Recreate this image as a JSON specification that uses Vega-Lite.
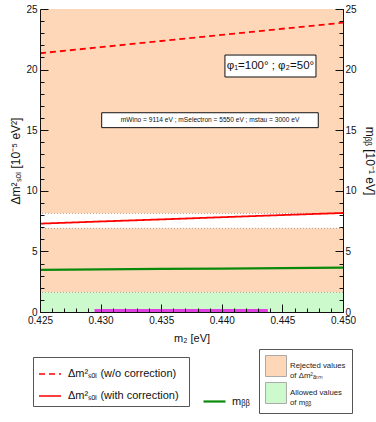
{
  "$schema": "https://vega.github.io/schema/vega-lite/v6.json",
  "width": 303,
  "height": 303,
  "autosize": {"type": "none"},
  "padding": {"left": 40, "top": 9, "right": 33, "bottom": 110},
  "background": "white",
  "config": {
    "font": "Liberation Sans",
    "view": {"stroke": "#222", "strokeWidth": 1},
    "axis": {"domainColor": "#111", "tickColor": "#111", "labelColor": "#111", "titleColor": "#111", "grid": false, "labelFont": "Liberation Sans", "titleFont": "Liberation Sans", "titleFontWeight": "normal", "labelOverlap": false, "labelFlush": false, "tickWidth": 1, "zindex": 1}
  },
  "datasets": {
    "bands": [
      {"region": "Rejected values|of Δm²ₐₜₘ", "y": 8.14, "y2": 25},
      {"region": "Rejected values|of Δm²ₐₜₘ", "y": 1.62, "y2": 6.9},
      {"region": "Allowed values|of mᵦᵦ", "y": 0, "y2": 1.62}
    ],
    "rules": [{"y": 8.14}, {"y": 6.9}, {"y": 1.62}],
    "strip": [{"x": 0.4295, "x2": 0.4438, "y": 0, "y2": 0.25}],
    "lines": [
      {"series": "Δm²ₛₒₗ (w/o correction)", "x": 0.425, "y": 21.35},
      {"series": "Δm²ₛₒₗ (w/o correction)", "x": 0.430, "y": 21.85},
      {"series": "Δm²ₛₒₗ (w/o correction)", "x": 0.435, "y": 22.36},
      {"series": "Δm²ₛₒₗ (w/o correction)", "x": 0.440, "y": 22.86},
      {"series": "Δm²ₛₒₗ (w/o correction)", "x": 0.445, "y": 23.37},
      {"series": "Δm²ₛₒₗ (w/o correction)", "x": 0.450, "y": 23.87},
      {"series": "Δm²ₛₒₗ (with correction)", "x": 0.425, "y": 7.29},
      {"series": "Δm²ₛₒₗ (with correction)", "x": 0.430, "y": 7.47},
      {"series": "Δm²ₛₒₗ (with correction)", "x": 0.435, "y": 7.64},
      {"series": "Δm²ₛₒₗ (with correction)", "x": 0.440, "y": 7.82},
      {"series": "Δm²ₛₒₗ (with correction)", "x": 0.445, "y": 8.00},
      {"series": "Δm²ₛₒₗ (with correction)", "x": 0.450, "y": 8.17}
    ],
    "mbb": [
      {"series": "mᵦᵦ", "x": 0.425, "y": 3.47},
      {"series": "mᵦᵦ", "x": 0.430, "y": 3.51},
      {"series": "mᵦᵦ", "x": 0.435, "y": 3.55},
      {"series": "mᵦᵦ", "x": 0.440, "y": 3.58},
      {"series": "mᵦᵦ", "x": 0.445, "y": 3.62},
      {"series": "mᵦᵦ", "x": 0.450, "y": 3.66}
    ],
    "notes": [
      {"kind": "big", "x": 0.44026, "x2": 0.44777, "y": 19.39, "y2": 21.2, "tx": 0.44401, "ty": 20.3, "label": "φ₁=100° ; φ₂=50°"},
      {"kind": "small", "x": 0.43009, "x2": 0.44796, "y": 15.21, "y2": 16.44, "tx": 0.43903, "ty": 15.83, "label": "mWino = 9114 eV ; mSelectron = 5550 eV ; mstau = 3000 eV"}
    ]
  },
  "resolve": {"scale": {"x": "independent", "y": "independent", "color": "independent", "strokeDash": "independent"}},
  "layer": [
    {
      "data": {"name": "bands"},
      "mark": {"type": "rect", "opacity": 1},
      "encoding": {
        "x": {"datum": 0.425, "type": "quantitative", "scale": {"domain": [0.425, 0.45], "nice": false, "zero": false},
          "axis": {"orient": "bottom", "title": null, "labels": false, "domain": false, "tickSize": -4, "zindex": 1,
            "values": [0.426,0.427,0.428,0.429,0.431,0.432,0.433,0.434,0.436,0.437,0.438,0.439,0.441,0.442,0.443,0.444,0.446,0.447,0.448,0.449]}},
        "x2": {"datum": 0.45},
        "y": {"field": "y", "type": "quantitative", "scale": {"domain": [0, 25], "nice": false},
          "axis": {"orient": "left", "title": null, "labels": false, "domain": false, "tickSize": -4, "zindex": 1,
            "values": [1,2,3,4,6,7,8,9,11,12,13,14,16,17,18,19,21,22,23,24]}},
        "y2": {"field": "y2"},
        "fill": {"field": "region", "type": "nominal",
          "scale": {"domain": ["Rejected values|of Δm²ₐₜₘ", "Allowed values|of mᵦᵦ"], "range": ["#FED7B8", "#CDFACD"]},
          "legend": {"orient": "none", "legendX": 219, "legendY": 340, "title": null, "symbolType": "square", "symbolSize": 441,
            "symbolStrokeColor": "#aaa", "symbolStrokeWidth": 1, "symbolOpacity": 1, "labelFontSize": 7.8, "labelColor": "#222", "strokeColor": "#555",
            "fillColor": "white", "padding": 6, "rowPadding": 0, "labelOffset": 3, "labelLimit": 200,
            "labelExpr": "split(datum.label, '|')"}
        }
      }
    },
    {
      "data": {"name": "rules"},
      "mark": {"type": "rule", "strokeDash": [1, 2], "strokeWidth": 1, "color": "#B89A86"},
      "encoding": {
        "y": {"field": "y", "type": "quantitative", "scale": {"domain": [0, 25], "nice": false},
          "axis": {"orient": "right", "title": null, "labels": false, "domain": false, "tickSize": -4, "zindex": 1,
            "values": [1,2,3,4,6,7,8,9,11,12,13,14,16,17,18,19,21,22,23,24]}}
      }
    },
    {
      "data": {"name": "strip"},
      "mark": {"type": "rect", "color": "#E040E0"},
      "encoding": {
        "x": {"field": "x", "type": "quantitative", "scale": {"domain": [0.425, 0.45], "nice": false, "zero": false}, "axis": null},
        "x2": {"field": "x2"},
        "y": {"field": "y", "type": "quantitative", "scale": {"domain": [0, 25], "nice": false}, "axis": null},
        "y2": {"field": "y2"}
      }
    },
    {
      "data": {"name": "notes"},
      "mark": {"type": "rect", "fill": "white", "stroke": "#111", "strokeWidth": 1},
      "encoding": {
        "x": {"field": "x", "type": "quantitative", "scale": {"domain": [0.425, 0.45], "nice": false, "zero": false}, "axis": null},
        "x2": {"field": "x2"},
        "y": {"field": "y", "type": "quantitative", "scale": {"domain": [0, 25], "nice": false}, "axis": null},
        "y2": {"field": "y2"}
      }
    },
    {
      "data": {"name": "notes"},
      "transform": [{"filter": "datum.kind == 'big'"}],
      "mark": {"type": "text", "fontSize": 11.5, "color": "#111", "align": "center", "baseline": "middle"},
      "encoding": {
        "x": {"field": "tx", "type": "quantitative", "scale": {"domain": [0.425, 0.45], "nice": false, "zero": false}, "axis": null},
        "y": {"field": "ty", "type": "quantitative", "scale": {"domain": [0, 25], "nice": false}, "axis": null},
        "text": {"field": "label"}
      }
    },
    {
      "data": {"name": "notes"},
      "transform": [{"filter": "datum.kind == 'small'"}],
      "mark": {"type": "text", "fontSize": 6.6, "color": "#111", "align": "center", "baseline": "middle"},
      "encoding": {
        "x": {"field": "tx", "type": "quantitative", "scale": {"domain": [0.425, 0.45], "nice": false, "zero": false}, "axis": null},
        "y": {"field": "ty", "type": "quantitative", "scale": {"domain": [0, 25], "nice": false}, "axis": null},
        "text": {"field": "label"}
      }
    },
    {
      "data": {"name": "lines"},
      "mark": {"type": "line", "strokeWidth": 1.8},
      "encoding": {
        "x": {"field": "x", "type": "quantitative", "scale": {"domain": [0.425, 0.45], "nice": false, "zero": false},
          "axis": {"orient": "bottom", "title": "m₂ [eV]", "titleFontSize": 11, "titlePadding": 7, "labelFontSize": 10, "labelPadding": 11, "zindex": 1,
            "tickSize": -8, "format": ".3f", "values": [0.425, 0.43, 0.435, 0.44, 0.445, 0.45]}},
        "y": {"field": "y", "type": "quantitative", "scale": {"domain": [0, 25], "nice": false},
          "axis": {"orient": "left", "title": "Δm²ₛₒₗ [10⁻⁵ eV²]", "titleFontSize": 12, "titlePadding": 3, "labelFontSize": 10, "labelPadding": 11, "zindex": 1,
            "tickSize": -8, "values": [0, 5, 10, 15, 20, 25]}},
        "color": {"field": "series", "type": "nominal",
          "scale": {"domain": ["Δm²ₛₒₗ (w/o correction)", "Δm²ₛₒₗ (with correction)"], "range": ["#FF0000", "#FF0000"]},
          "legend": {"orient": "none", "legendX": -7, "legendY": 348, "title": "                  ", "titleOrient": "right", "titlePadding": 5, "titleFontSize": 11, "titleColor": "transparent",
            "symbolType": "stroke", "symbolSize": 484, "zindex": 0,
            "symbolStrokeWidth": 1.6, "labelFontSize": 11, "labelColor": "#111", "strokeColor": "#555", "fillColor": "white",
            "padding": 5, "rowPadding": 5, "labelOffset": 6, "labelLimit": 300}},
        "strokeDash": {"field": "series", "type": "nominal",
          "scale": {"domain": ["Δm²ₛₒₗ (w/o correction)", "Δm²ₛₒₗ (with correction)"], "range": [[6, 4], [1, 0]]},
          "legend": {"orient": "none", "legendX": -7, "legendY": 348, "title": "                  ", "titleOrient": "right", "titlePadding": 5, "titleFontSize": 11, "titleColor": "transparent",
            "symbolType": "stroke", "symbolSize": 484, "zindex": 0,
            "symbolStrokeWidth": 1.6, "labelFontSize": 11, "labelColor": "#111", "strokeColor": "#555", "fillColor": "white",
            "padding": 5, "rowPadding": 5, "labelOffset": 6, "labelLimit": 300}}
      }
    },
    {
      "data": {"name": "mbb"},
      "mark": {"type": "line", "strokeWidth": 2.2},
      "encoding": {
        "x": {"field": "x", "type": "quantitative", "scale": {"domain": [0.425, 0.45], "nice": false, "zero": false}, "axis": null},
        "y": {"field": "y", "type": "quantitative", "scale": {"domain": [0, 25], "nice": false},
          "axis": {"orient": "right", "title": "mᵦᵦ [10⁻¹ eV]", "titleFontSize": 12, "titlePadding": 6, "labelFontSize": 10, "labelPadding": 10, "zindex": 1,
            "tickSize": -8, "values": [0, 5, 10, 15, 20, 25]}},
        "color": {"field": "series", "type": "nominal",
          "scale": {"domain": ["mᵦᵦ"], "range": ["#0A8A0A"]},
          "legend": {"orient": "none", "legendX": 162, "legendY": 380, "title": null, "symbolType": "stroke", "symbolSize": 484, "zindex": 2,
            "symbolStrokeWidth": 2.2, "labelFontSize": 11, "labelColor": "#111", "padding": 0, "labelOffset": 5}}
      }
    }
  ]
}
